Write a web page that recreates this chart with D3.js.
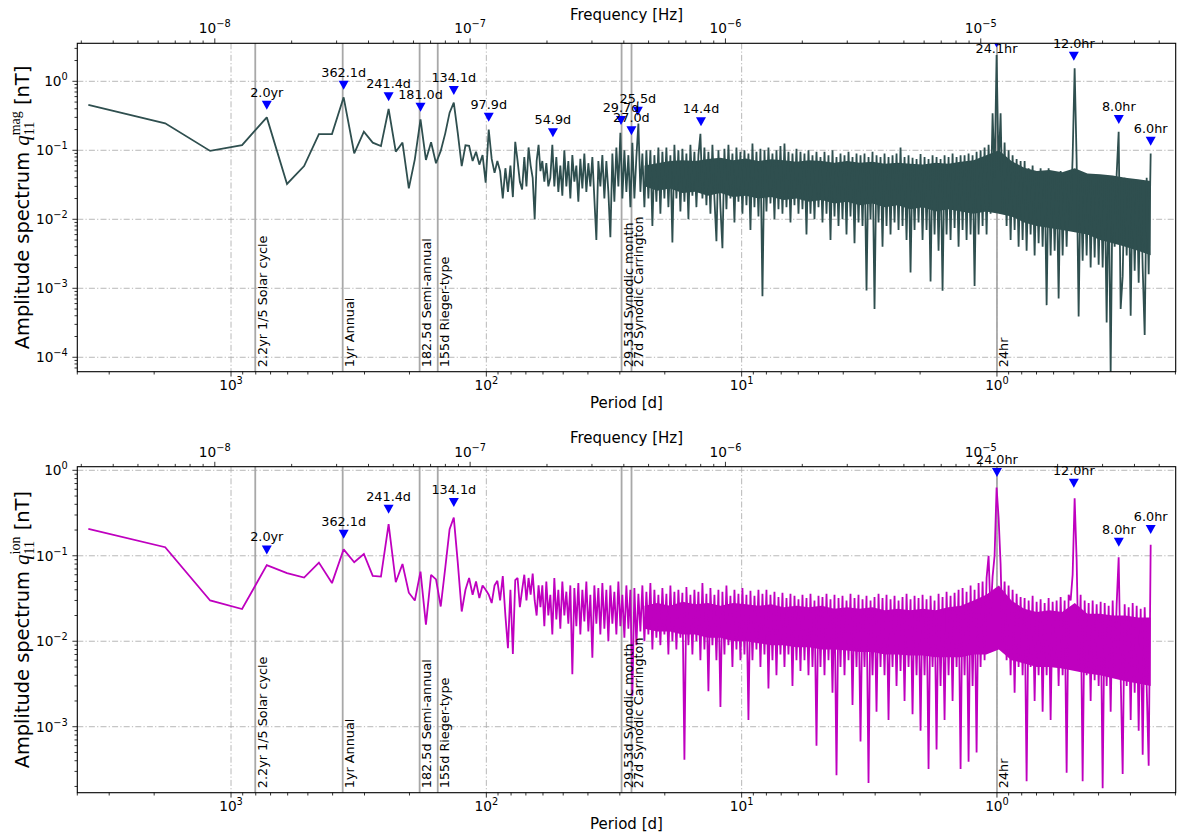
<!DOCTYPE html>
<html><head><meta charset="utf-8">
<script src="https://cdn.jsdelivr.net/npm/d3@7"></script>
<style>body{margin:0;background:#fff} text{font-family:"DejaVu Sans",sans-serif;fill:#000}</style>
</head><body><svg id="c" width="1179" height="838"></svg>
<script>
// ---------------- DATA ----------------
const recordLengthDays = 3621;            // harmonic k sits at period recordLengthDays / k
const periodDomain = [4000, 0.1995];
// low-frequency harmonics k = 1..59 (read point by point)
const magLowAmps = [0.454,0.246,0.098,0.119,0.30,0.0325,0.059,0.172,0.172,0.586,
  0.0905,0.186,0.129,0.115,0.397,0.0955,0.129,0.0281,0.074,0.281,
  0.0724,0.131,0.0648,0.098,0.176,0.351,0.49,0.176,0.059,0.118,
  0.116,0.07,0.095,0.062,0.085,0.034,0.20,0.075,0.047,0.07,
  0.05,0.02,0.055,0.025,0.06,0.021,0.133,0.07,0.035,0.027,
  0.08,0.03,0.11,0.06,0.04,0.01,0.07,0.12,0.05];
const ionLowAmps = [0.206,0.126,0.030,0.0238,0.0777,0.0626,0.0556,0.0832,0.0479,0.119,
  0.0841,0.105,0.0582,0.0571,0.234,0.049,0.080,0.037,0.030,0.0653,
  0.0156,0.0598,0.053,0.0255,0.072,0.205,0.28,0.082,0.0223,0.04,
  0.055,0.035,0.05,0.032,0.045,0.04,0.035,0.028,0.045,0.051,
  0.03,0.058,0.02,0.0083,0.04,0.0071,0.052,0.055,0.025,0.04,
  0.06,0.03,0.055,0.035,0.062,0.03,0.02,0.045,0.025];
// dense part: vertices read at even steps of log period from denseStartPeriod to denseEndPeriod
const denseStartPeriod = 60.35, denseEndPeriod = 0.25;
const magDenseAmps = [
  0.07,0.035,0.065,0.03,0.04,0.12,0.03,0.08,0.025,0.06,
  0.022,0.10,0.03,0.07,0.02,0.085,0.035,0.06,0.018,0.075,
  0.028,0.09,0.025,0.065,0.03,0.08,0.02,0.005,0.07,0.03,
  0.085,0.02,0.07,0.025,0.0055,0.09,0.018,0.11,0.03,0.18,
  0.02,0.1,0.025,0.085,0.015,0.128,0.02,0.08,0.245,0.025,
  0.09,0.015,0.1,0.02,0.1,0.008,0.085,0.018,0.11,0.012,
  0.095,0.02,0.11,0.015,0.085,0.0046,0.12,0.02,0.1,0.013,
  0.105,0.018,0.09,0.01,0.12,0.022,0.095,0.015,0.085,0.173,
  0.02,0.11,0.016,0.095,0.012,0.12,0.02,0.0048,0.1,0.015,
  0.0038,0.105,0.014,0.12,0.02,0.09,0.009,0.11,0.018,0.095,
  0.012,0.1,0.016,0.09,0.007,0.125,0.015,0.095,0.011,0.105,
  0.00077,0.1,0.013,0.11,0.017,0.09,0.01,0.1,0.014,0.115,
  0.012,0.125,0.015,0.095,0.009,0.09,0.016,0.105,0.012,0.095,
  0.014,0.09,0.006,0.1,0.012,0.085,0.01,0.095,0.015,0.08,
  0.009,0.095,0.012,0.085,0.005,0.1,0.011,0.08,0.008,0.09,
  0.01,0.085,0.006,0.095,0.011,0.08,0.0045,0.09,0.009,0.085,
  0.008,0.09,0.00093,0.08,0.01,0.095,0.0005,0.085,0.009,0.08,
  0.004,0.09,0.008,0.08,0.006,0.085,0.009,0.09,0.007,0.11,
  0.008,0.08,0.005,0.085,0.0017,0.078,0.007,0.075,0.009,0.088,
  0.005,0.08,0.007,0.075,0.00125,0.085,0.006,0.08,0.0035,0.075,
  0.00092,0.085,0.006,0.08,0.005,0.09,0.0075,0.08,0.004,0.085,
  0.007,0.085,0.005,0.09,0.006,0.085,0.00108,0.095,0.006,0.1,
  0.008,0.11,0.006,0.12,0.012,0.345,0.04,2.4,0.05,0.345,
  0.012,0.13,0.008,0.1,0.005,0.085,0.007,0.075,0.004,0.07,
  0.005,0.07,0.0035,0.055,0.006,0.06,0.003,0.05,0.0045,0.055,
  0.004,0.05,0.00057,0.055,0.003,0.05,0.0035,0.045,0.00071,0.05,
  0.003,0.045,0.004,0.05,0.01,0.08,1.54,0.07,0.00039,0.045,
  0.0025,0.04,0.003,0.045,0.002,0.04,0.0028,0.042,0.0022,0.04,
  0.002,0.04,0.00032,0.038,0.00006,0.04,0.004,0.045,0.186,0.0005,
  0.0015,0.04,0.003,0.035,0.0004,0.038,0.0018,0.035,0.0012,0.036,
  0.002,0.00021,0.04,0.0016,0.09];
const ionDenseAmps = [
  0.045,0.015,0.05,0.02,0.035,0.012,0.055,0.018,0.04,0.014,
  0.05,0.02,0.038,0.016,0.045,0.0041,0.042,0.015,0.048,0.012,
  0.04,0.017,0.05,0.013,0.035,0.0064,0.045,0.016,0.042,0.012,
  0.048,0.014,0.04,0.01,0.045,0.016,0.038,0.012,0.05,0.015,
  0.035,0.011,0.045,0.014,0.04,0.0023,0.042,0.009,0.036,0.013,
  0.045,0.01,0.038,0.012,0.048,0.008,0.04,0.011,0.035,0.009,
  0.042,0.012,0.036,0.007,0.045,0.01,0.038,0.008,0.04,0.011,
  0.037,0.00041,0.043,0.009,0.035,0.007,0.04,0.01,0.038,0.006,
  0.048,0.008,0.036,0.0026,0.042,0.009,0.035,0.006,0.04,0.0017,
  0.038,0.007,0.045,0.009,0.034,0.005,0.04,0.008,0.036,0.006,
  0.042,0.007,0.035,0.0012,0.039,0.006,0.034,0.008,0.04,0.005,
  0.036,0.007,0.04,0.0028,0.035,0.006,0.038,0.004,0.033,0.007,
  0.037,0.005,0.032,0.007,0.036,0.003,0.034,0.006,0.031,0.0045,
  0.035,0.006,0.032,0.004,0.036,0.005,0.03,0.0006,0.034,0.005,
  0.033,0.004,0.036,0.006,0.031,0.0025,0.035,0.00027,0.032,0.005,
  0.034,0.004,0.03,0.006,0.036,0.0018,0.032,0.005,0.035,0.00067,
  0.031,0.005,0.034,0.00022,0.03,0.004,0.033,0.0015,0.036,0.005,
  0.032,0.004,0.035,0.0012,0.031,0.005,0.034,0.003,0.03,0.0045,
  0.033,0.002,0.036,0.005,0.031,0.0014,0.034,0.004,0.032,0.0009,
  0.035,0.004,0.031,0.00032,0.034,0.005,0.03,0.00054,0.036,0.003,
  0.033,0.0012,0.038,0.004,0.034,0.002,0.037,0.005,0.04,0.00032,
  0.042,0.004,0.038,0.00039,0.045,0.003,0.04,0.0005,0.048,0.005,
  0.05,0.006,0.055,0.1,0.02,0.057,0.1,0.63,0.28,0.08,
  0.01,0.05,0.006,0.045,0.004,0.04,0.0025,0.036,0.005,0.033,
  0.004,0.032,0.00023,0.03,0.005,0.034,0.002,0.029,0.004,0.031,
  0.0015,0.028,0.004,0.032,0.0012,0.029,0.005,0.03,0.003,0.033,
  0.004,0.03,0.00029,0.035,0.03,0.06,0.471,0.09,0.005,0.035,
  0.00023,0.03,0.004,0.028,0.002,0.03,0.0035,0.027,0.003,0.029,
  0.00019,0.028,0.003,0.026,0.0015,0.03,0.004,0.027,0.096,0.004,
  0.00028,0.027,0.003,0.025,0.0012,0.028,0.0025,0.026,0.0009,0.024,
  0.00047,0.025,0.003,0.00035,0.135];
// solid core of the dense band (top edge / bottom edge), read at even log-period steps
const coreStartPeriod = 24, coreEndPeriod = 0.25;
const magCoreTop = [0.06,0.065,0.07,0.072,0.07,0.075,0.078,0.072,0.076,0.07,
  0.074,0.072,0.068,0.072,0.07,0.066,0.07,0.066,0.068,0.064,
  0.066,0.064,0.062,0.066,0.064,0.068,0.072,0.085,0.1,0.07,
  0.056,0.05,0.052,0.048,0.055,0.046,0.045,0.043,0.04,0.038,0.036];
const magCoreBottom = [0.03,0.026,0.028,0.024,0.025,0.022,0.024,0.021,0.022,0.02,
  0.021,0.019,0.02,0.018,0.019,0.017,0.018,0.016,0.017,0.015,
  0.016,0.014,0.015,0.013,0.014,0.013,0.012,0.013,0.012,0.011,
  0.009,0.008,0.0075,0.007,0.0065,0.006,0.005,0.0045,0.004,0.0035,0.003];
const ionCoreTop = [0.026,0.028,0.026,0.029,0.027,0.028,0.026,0.028,0.027,0.026,
  0.027,0.025,0.026,0.025,0.026,0.024,0.025,0.024,0.025,0.023,
  0.024,0.023,0.024,0.023,0.025,0.026,0.03,0.035,0.045,0.03,
  0.024,0.022,0.023,0.022,0.028,0.021,0.021,0.02,0.02,0.019,0.019];
const ionCoreBottom = [0.014,0.013,0.013,0.012,0.012,0.011,0.011,0.01,0.01,0.0095,
  0.009,0.009,0.0085,0.0085,0.008,0.008,0.0078,0.0075,0.0075,0.007,
  0.007,0.0068,0.0068,0.0065,0.0065,0.0065,0.007,0.007,0.008,0.006,
  0.0055,0.005,0.005,0.0048,0.0045,0.0042,0.004,0.0037,0.0034,0.0032,0.003];
// marked peaks
const magPeakPeriods = [724.2,362.1,241.4,181.05,134.1,97.86,54.86,29.68,27.02,25.5,14.43,1.0042,0.5,0.3333,0.25];
const magPeakAmps = [0.30,0.586,0.397,0.281,0.49,0.20,0.12,0.18,0.128,0.245,0.173,2.4,1.54,0.186,0.09];
const magPeakLabels = ["2.0yr","362.1d","241.4d","181.0d","134.1d","97.9d","54.9d","29.7d","27.0d","25.5d","14.4d","24.1hr","12.0hr","8.0hr","6.0hr"];
const ionPeakPeriods = [724.2,362.1,241.4,134.1,1.0,0.5,0.3333,0.25];
const ionPeakAmps = [0.078,0.119,0.234,0.28,0.63,0.471,0.096,0.135];
const ionPeakLabels = ["2.0yr","362.1d","241.4d","134.1d","24.0hr","12.0hr","8.0hr","6.0hr"];
// reference periods
const refPeriods = [803.6,365.25,182.5,155,29.53,27,1];
const refLabels = ["2.2yr 1/5 Solar cycle","1yr Annual","182.5d Semi-annual","155d Rieger-type","29.53d Synodic month","27d Synodic Carrington","24hr"];
const markerFactor = 1.5;
const secondsPerDay = 86400;

// ---------------- DRAW ----------------
const svg = d3.select('#c');
svg.append('rect').attr('width',1179).attr('height',838).attr('fill','#fff');

const panels = [
  {top:43.3, bottom:371.7, yDomain:[3.554, 6.18e-5], low:magLowAmps, dense:magDenseAmps, ct:magCoreTop, cb:magCoreBottom, color:'#2f4f4f',
   pk:magPeakPeriods, pa:magPeakAmps, pl:magPeakLabels, sup:'mag'},
  {top:466.7, bottom:792.7, yDomain:[1.102, 1.69e-4], low:ionLowAmps, dense:ionDenseAmps, ct:ionCoreTop, cb:ionCoreBottom, color:'#bf00bf',
   pk:ionPeakPeriods, pa:ionPeakAmps, pl:ionPeakLabels, sup:'ion'}
];
const left = 77.3, right = 1175.7;
const x = d3.scaleLog().domain(periodDomain).range([left, right]);
const xf = d3.scaleLog().domain(periodDomain.map(p => 1/(p*secondsPerDay))).range([left, right]);

function logTicks(domain){
  const lo = Math.min(...domain), hi = Math.max(...domain);
  const out = [];
  for (let e = Math.floor(Math.log10(lo)); e <= Math.ceil(Math.log10(hi)); e++)
    for (let m = 1; m <= 9; m++){ const v = m*Math.pow(10,e); if (v>=lo*0.9999 && v<=hi*1.0001) out.push({v, major:m===1, e}); }
  return out;
}
function powLabel(t, e){
  t.append('tspan').text('10');
  t.append('tspan').attr('dy',-6).attr('font-size',9.8).text(e<0 ? '\u2212'+(-e) : String(e));
}
function logSpaced(p0, p1, n){
  const a = Math.log10(p0), b = Math.log10(p1);
  return d3.range(n).map(i => Math.pow(10, a + (b-a)*i/(n-1)));
}

panels.forEach((P, pi) => {
  const g = svg.append('g');
  const y = d3.scaleLog().domain(P.yDomain).range([P.top, P.bottom]);
  const clipId = 'clip'+pi;
  svg.append('clipPath').attr('id',clipId).append('rect')
    .attr('x',left).attr('y',P.top).attr('width',right-left).attr('height',P.bottom-P.top);

  // grid
  const xt = logTicks(periodDomain), yt = logTicks(P.yDomain), ft = logTicks(xf.domain());
  g.selectAll('.gx').data(xt.filter(d=>d.major)).join('line')
    .attr('x1',d=>x(d.v)).attr('x2',d=>x(d.v)).attr('y1',P.top).attr('y2',P.bottom)
    .attr('stroke','#b0b0b0').attr('stroke-width',0.9).attr('stroke-dasharray','6,2.2,1.2,2.2');
  g.selectAll('.gy').data(yt.filter(d=>d.major)).join('line')
    .attr('y1',d=>y(d.v)).attr('y2',d=>y(d.v)).attr('x1',left).attr('x2',right)
    .attr('stroke','#b0b0b0').attr('stroke-width',0.9).attr('stroke-dasharray','6,2.2,1.2,2.2');

  // reference lines
  g.selectAll('.ref').data(refPeriods).join('line')
    .attr('x1',d=>x(d)).attr('x2',d=>x(d)).attr('y1',P.top).attr('y2',P.bottom)
    .attr('stroke','#a8a8a8').attr('stroke-width',1.8);

  const dg = g.append('g').attr('clip-path',`url(#${clipId})`);
  // solid core of the band
  const cp = logSpaced(coreStartPeriod, coreEndPeriod, P.ct.length);
  dg.append('path')
    .attr('d', d3.area().x((d,i)=>x(cp[i])).y0((d,i)=>y(P.cb[i])).y1((d,i)=>y(P.ct[i]))(P.ct))
    .attr('fill',P.color);
  // data line
  const pts = P.low.map((a,i) => [recordLengthDays/(i+1), a]);
  const dp = logSpaced(denseStartPeriod, denseEndPeriod, P.dense.length);
  P.dense.forEach((a,i) => pts.push([dp[i], a]));
  dg.append('path')
    .attr('d', d3.line().x(d=>x(d[0])).y(d=>y(d[1]))(pts))
    .attr('fill','none').attr('stroke',P.color).attr('stroke-width',1.8).attr('stroke-linejoin','miter').attr('stroke-miterlimit',2);

  // markers
  g.append('g').attr('clip-path',`url(#${clipId})`).selectAll('path').data(P.pk).join('path')
    .attr('d', 'M-5,-4.5L5,-4.5L0,4.5Z')
    .attr('transform',(d,i)=>`translate(${x(d)},${y(P.pa[i]*markerFactor)})`)
    .attr('fill','#0000ff');

  // reference labels
  g.selectAll('.rl').data(refPeriods).join('text')
    .attr('transform',d=>`translate(${x(d)+11.5},${P.bottom-4.5}) rotate(-90)`)
    .attr('font-size',12.8).text((d,i)=>refLabels[i]);

  // peak labels
  g.selectAll('.pl').data(P.pk).join('text')
    .attr('x',d=>x(d))
    .attr('y',(d,i)=>{ const my = y(P.pa[i]*markerFactor); return (my - P.top < 3) ? my + 10.5 : my - 8.5; })
    .attr('text-anchor','middle').attr('font-size',12.8).text((d,i)=>P.pl[i]);

  // axes frame
  g.append('rect').attr('x',left).attr('y',P.top).attr('width',right-left).attr('height',P.bottom-P.top)
    .attr('fill','none').attr('stroke','#000').attr('stroke-width',1.1);

  // bottom ticks
  g.selectAll('.tb').data(xt).join('line')
    .attr('x1',d=>x(d.v)).attr('x2',d=>x(d.v)).attr('y1',P.bottom).attr('y2',d=>P.bottom+(d.major?4.9:2.8))
    .attr('stroke','#000').attr('stroke-width',0.8);
  xt.filter(d=>d.major).forEach(d=>{
    const t = g.append('text').attr('x',x(d.v)).attr('y',P.bottom+18.5).attr('text-anchor','middle').attr('font-size',13.7);
    powLabel(t, d.e);
  });
  // top (frequency) ticks
  g.selectAll('.tt').data(ft).join('line')
    .attr('x1',d=>xf(d.v)).attr('x2',d=>xf(d.v)).attr('y1',P.top).attr('y2',d=>P.top-(d.major?4.9:2.8))
    .attr('stroke','#000').attr('stroke-width',0.8);
  ft.filter(d=>d.major).forEach(d=>{
    const t = g.append('text').attr('x',xf(d.v)).attr('y',P.top-10).attr('text-anchor','middle').attr('font-size',13.7);
    powLabel(t, d.e);
  });
  // left ticks
  g.selectAll('.tl').data(yt).join('line')
    .attr('y1',d=>y(d.v)).attr('y2',d=>y(d.v)).attr('x1',left).attr('x2',d=>left-(d.major?4.9:2.8))
    .attr('stroke','#000').attr('stroke-width',0.8);
  yt.filter(d=>d.major).forEach(d=>{
    const t = g.append('text').attr('x',left-9.5).attr('y',y(d.v)+5).attr('text-anchor','end').attr('font-size',13.7);
    powLabel(t, d.e);
  });

  // axis labels
  const cx = (left+right)/2;
  g.append('text').attr('x',cx).attr('y',P.top-23.5).attr('text-anchor','middle').attr('font-size',15).text('Frequency [Hz]');
  g.append('text').attr('x',cx).attr('y',P.bottom+36.5).attr('text-anchor','middle').attr('font-size',15).text('Period [d]');

  const cy = (P.top+P.bottom)/2;
  const yl = g.append('text').attr('transform',`translate(28.5,${cy}) rotate(-90)`).attr('text-anchor','middle').attr('font-size',19.4);
  yl.append('tspan').text('Amplitude spectrum ');
  yl.append('tspan').attr('font-family','Liberation Serif').attr('font-style','italic').attr('font-size',21).text('q');
  const sp = yl.append('tspan').attr('font-family','Liberation Serif').attr('font-size',14).attr('dy',-9).text(P.sup);
  const spW = sp.node().getComputedTextLength();
  const sb = yl.append('tspan').attr('font-family','Liberation Serif').attr('font-size',14).attr('dy',14).attr('dx',-spW).text('11');
  const sbW = sb.node().getComputedTextLength();
  yl.append('tspan').attr('dy',-5).attr('dx',Math.max(0,spW-sbW)).text(' [nT]');
});
</script></body></html>
